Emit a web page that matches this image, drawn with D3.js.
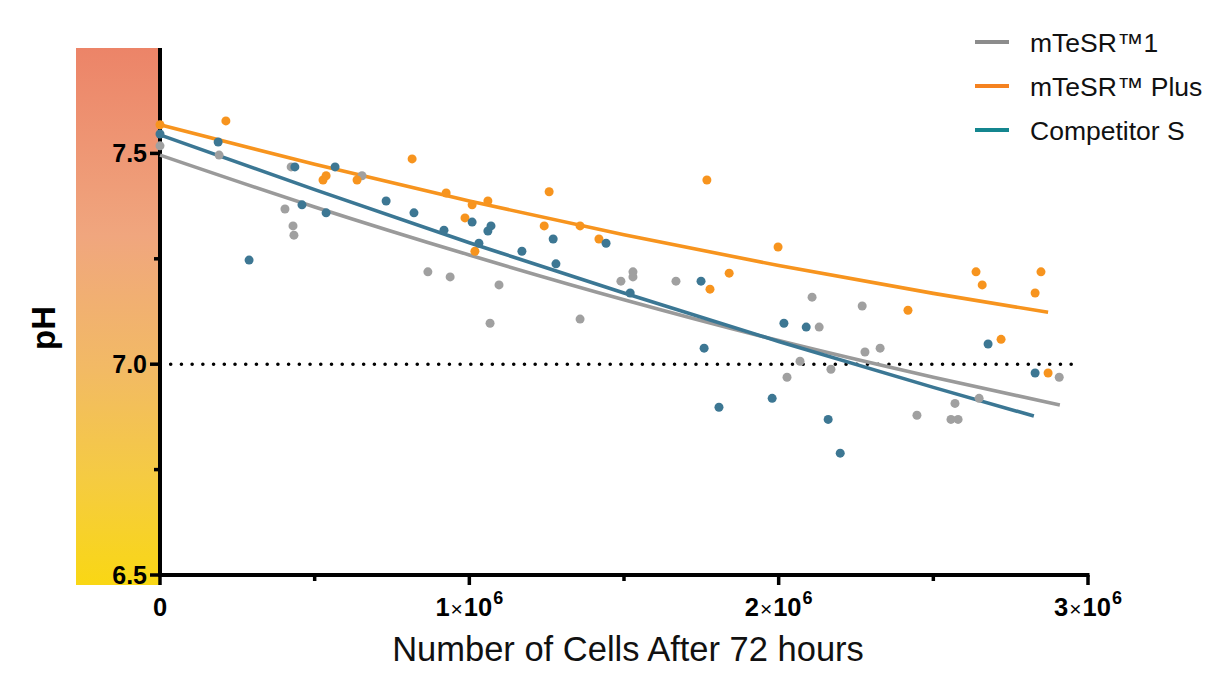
<!DOCTYPE html>
<html><head><meta charset="utf-8">
<script src="https://cdn.jsdelivr.net/npm/d3@7/dist/d3.min.js"></script>
<style>body{margin:0;background:#fff;} svg{display:block;font-family:"Liberation Sans",Arial,sans-serif;}</style>
</head><body>
<svg id="chart" width="1226" height="682"></svg>
<script>
// ---- data (x in millions of cells, y = pH) ----
const seriesNames = ["mTeSR\u2122 1", "mTeSR\u2122 Plus", "Competitor S"];
const gray_x = [0,0.191,0.404,0.424,0.430,0.433,0.653,0.866,0.938,1.067,1.096,1.358,1.490,1.529,1.529,1.668,2.027,2.069,2.108,2.131,2.169,2.270,2.279,2.328,2.447,2.557,2.580,2.570,2.648,2.907];
const gray_y = [7.518,7.496,7.368,7.468,7.328,7.306,7.447,7.219,7.207,7.097,7.188,7.107,7.197,7.219,7.207,7.197,6.969,7.007,7.159,7.088,6.988,7.138,7.029,7.038,6.879,6.869,6.869,6.907,6.919,6.969];
const orange_x = [0,0.213,0.527,0.537,0.637,0.815,0.925,0.986,1.009,1.018,1.060,1.242,1.258,1.358,1.419,1.768,1.778,1.840,1.998,2.418,2.638,2.658,2.719,2.829,2.848,2.871];
const orange_y = [7.568,7.577,7.437,7.447,7.437,7.487,7.406,7.347,7.378,7.268,7.387,7.328,7.409,7.328,7.297,7.437,7.178,7.216,7.278,7.128,7.219,7.188,7.059,7.169,7.219,6.979];
const blue_x = [0,0.188,0.288,0.436,0.459,0.537,0.566,0.731,0.821,0.918,1.009,1.031,1.060,1.070,1.170,1.271,1.280,1.442,1.520,1.749,1.759,1.807,1.979,2.017,2.089,2.160,2.199,2.677,2.829];
const blue_y = [7.546,7.527,7.247,7.468,7.378,7.359,7.468,7.387,7.359,7.318,7.337,7.287,7.316,7.328,7.268,7.297,7.238,7.287,7.169,7.197,7.038,6.898,6.919,7.097,7.088,6.869,6.789,7.048,6.979];
// fitted curves
const grayFit_x = [0,0.5,1.0,1.5,2.0,2.5,2.909];
const grayFit_y = [7.496,7.373,7.259,7.153,7.056,6.969,6.903];
const orangeFit_x = [0,0.5,1.0,1.5,2.0,2.5,2.871];
const orangeFit_y = [7.568,7.474,7.387,7.307,7.234,7.168,7.123];
const blueFit_x = [0,0.5,1.0,1.5,2.0,2.5,2.825];
const blueFit_y = [7.544,7.414,7.288,7.169,7.054,6.945,6.877];
const xTicks = [0,1,2,3];
const xMinorTicks = [0.5,1.5,2.5];
const yTicks = [6.5,7.0,7.5];
const yMinorTicks = [6.75,7.25];
const refPH = 7.0;

const svg = d3.select("#chart");
const x = d3.scaleLinear().domain([0,3]).range([160,1088]);
const y = d3.scaleLinear().domain([6.5,7.75]).range([575,48]);

// gradient band
const defs = svg.append("defs");
const grad = defs.append("linearGradient").attr("id","band").attr("x1",0).attr("x2",0).attr("y1",0).attr("y2",1);
[[0,"#EC8468"],[0.35,"#F0A67E"],[0.6,"#F2BA64"],[0.8,"#F5CB42"],[1,"#F9D714"]].forEach(s=>grad.append("stop").attr("offset",s[0]).attr("stop-color",s[1]));
svg.append("rect").attr("x",76).attr("y",y(7.75)).attr("width",x(0)-76).attr("height",585-y(7.75)).attr("fill","url(#band)");

// dotted reference line
svg.append("line").attr("x1",x(0)+10.7).attr("x2",x(2.975)).attr("y1",y(refPH)).attr("y2",y(refPH))
  .attr("stroke","#000").attr("stroke-width",3.6).attr("stroke-linecap","round").attr("stroke-dasharray","0 10.72");

// axes
const ax = svg.append("g");
ax.append("line").attr("x1",x(0)).attr("x2",x(0)).attr("y1",y(7.75)).attr("y2",y(6.5)+2).attr("stroke","#000").attr("stroke-width",4);
ax.append("line").attr("x1",x(0)-2).attr("x2",x(3)+1.5).attr("y1",y(6.5)).attr("y2",y(6.5)).attr("stroke","#000").attr("stroke-width",4);
yTicks.forEach(t=>{
  ax.append("line").attr("x1",x(0)-10).attr("x2",x(0)).attr("y1",y(t)).attr("y2",y(t)).attr("stroke","#000").attr("stroke-width",3.5);
  ax.append("text").attr("x",x(0)-13).attr("y",y(t)).attr("dy","0.36em").attr("text-anchor","end")
    .attr("font-size",25).attr("font-weight","bold").text(d3.format(".1f")(t));
});
yMinorTicks.forEach(t=>{
  ax.append("line").attr("x1",x(0)-6).attr("x2",x(0)).attr("y1",y(t)).attr("y2",y(t)).attr("stroke","#000").attr("stroke-width",3.5);
});
xTicks.forEach(t=>{
  ax.append("line").attr("x1",x(t)).attr("x2",x(t)).attr("y1",y(6.5)).attr("y2",y(6.5)+10).attr("stroke","#000").attr("stroke-width",3.5);
  const tx = ax.append("text").attr("x",x(t)).attr("y",616).attr("text-anchor","middle").attr("font-size",25.5).attr("font-weight","bold");
  if(t===0){ tx.text("0"); }
  else {
    tx.append("tspan").text(t);
    tx.append("tspan").attr("font-weight","normal").attr("font-size",21).attr("dx",1).text("\u00d7");
    tx.append("tspan").attr("dx",1).text("10");
    tx.append("tspan").attr("font-size",18).attr("dx",1).attr("dy",-12).text("6");
  }
});
xMinorTicks.forEach(t=>{
  ax.append("line").attr("x1",x(t)).attr("x2",x(t)).attr("y1",y(6.5)).attr("y2",y(6.5)+6).attr("stroke","#000").attr("stroke-width",3.5);
});

// axis titles
svg.append("text").attr("x",628).attr("y",661).attr("text-anchor","middle").attr("font-size",34.5).attr("fill","#111").text("Number of Cells After 72 hours");
svg.append("text").attr("transform","translate(55,328) rotate(-90)").attr("text-anchor","middle").attr("font-size",33).attr("font-weight","bold").text("pH");

// series
const series = [
  {name:seriesNames[0], xs:gray_x, ys:gray_y, fx:grayFit_x, fy:grayFit_y, pt:"#A0A0A0", ln:"#9A9A9A", lg:"#8C8C8C"},
  {name:seriesNames[1], xs:orange_x, ys:orange_y, fx:orangeFit_x, fy:orangeFit_y, pt:"#F7941E", ln:"#F7941E", lg:"#F58220"},
  {name:seriesNames[2], xs:blue_x, ys:blue_y, fx:blueFit_x, fy:blueFit_y, pt:"#3D7793", ln:"#3B7794", lg:"#14868F"}
];
const lineGen = d3.line().x(d=>x(d[0])).y(d=>y(d[1])).curve(d3.curveMonotoneX);
series.forEach(s=>{
  svg.append("path").datum(s.fx.map((v,i)=>[v,s.fy[i]])).attr("d",lineGen).attr("fill","none").attr("stroke",s.ln).attr("stroke-width",3.6);
});
series.forEach(s=>{
  svg.append("g").selectAll("circle").data(s.xs.map((v,i)=>[v,s.ys[i]])).join("circle")
    .attr("cx",d=>x(d[0])).attr("cy",d=>y(d[1])).attr("r",4.5).attr("fill",s.pt);
});

// legend
const legendLabels = ["mTeSR\u21221","mTeSR\u2122 Plus","Competitor S"];
series.forEach((s,i)=>{
  const ly = 42 + i*44;
  svg.append("line").attr("x1",975).attr("x2",1009).attr("y1",ly).attr("y2",ly).attr("stroke",s.lg).attr("stroke-width",4);
  svg.append("text").attr("x",1030).attr("y",ly).attr("dy","0.36em").attr("font-size",26.5).attr("fill","#111").text(legendLabels[i]);
});
</script>
</body></html>
